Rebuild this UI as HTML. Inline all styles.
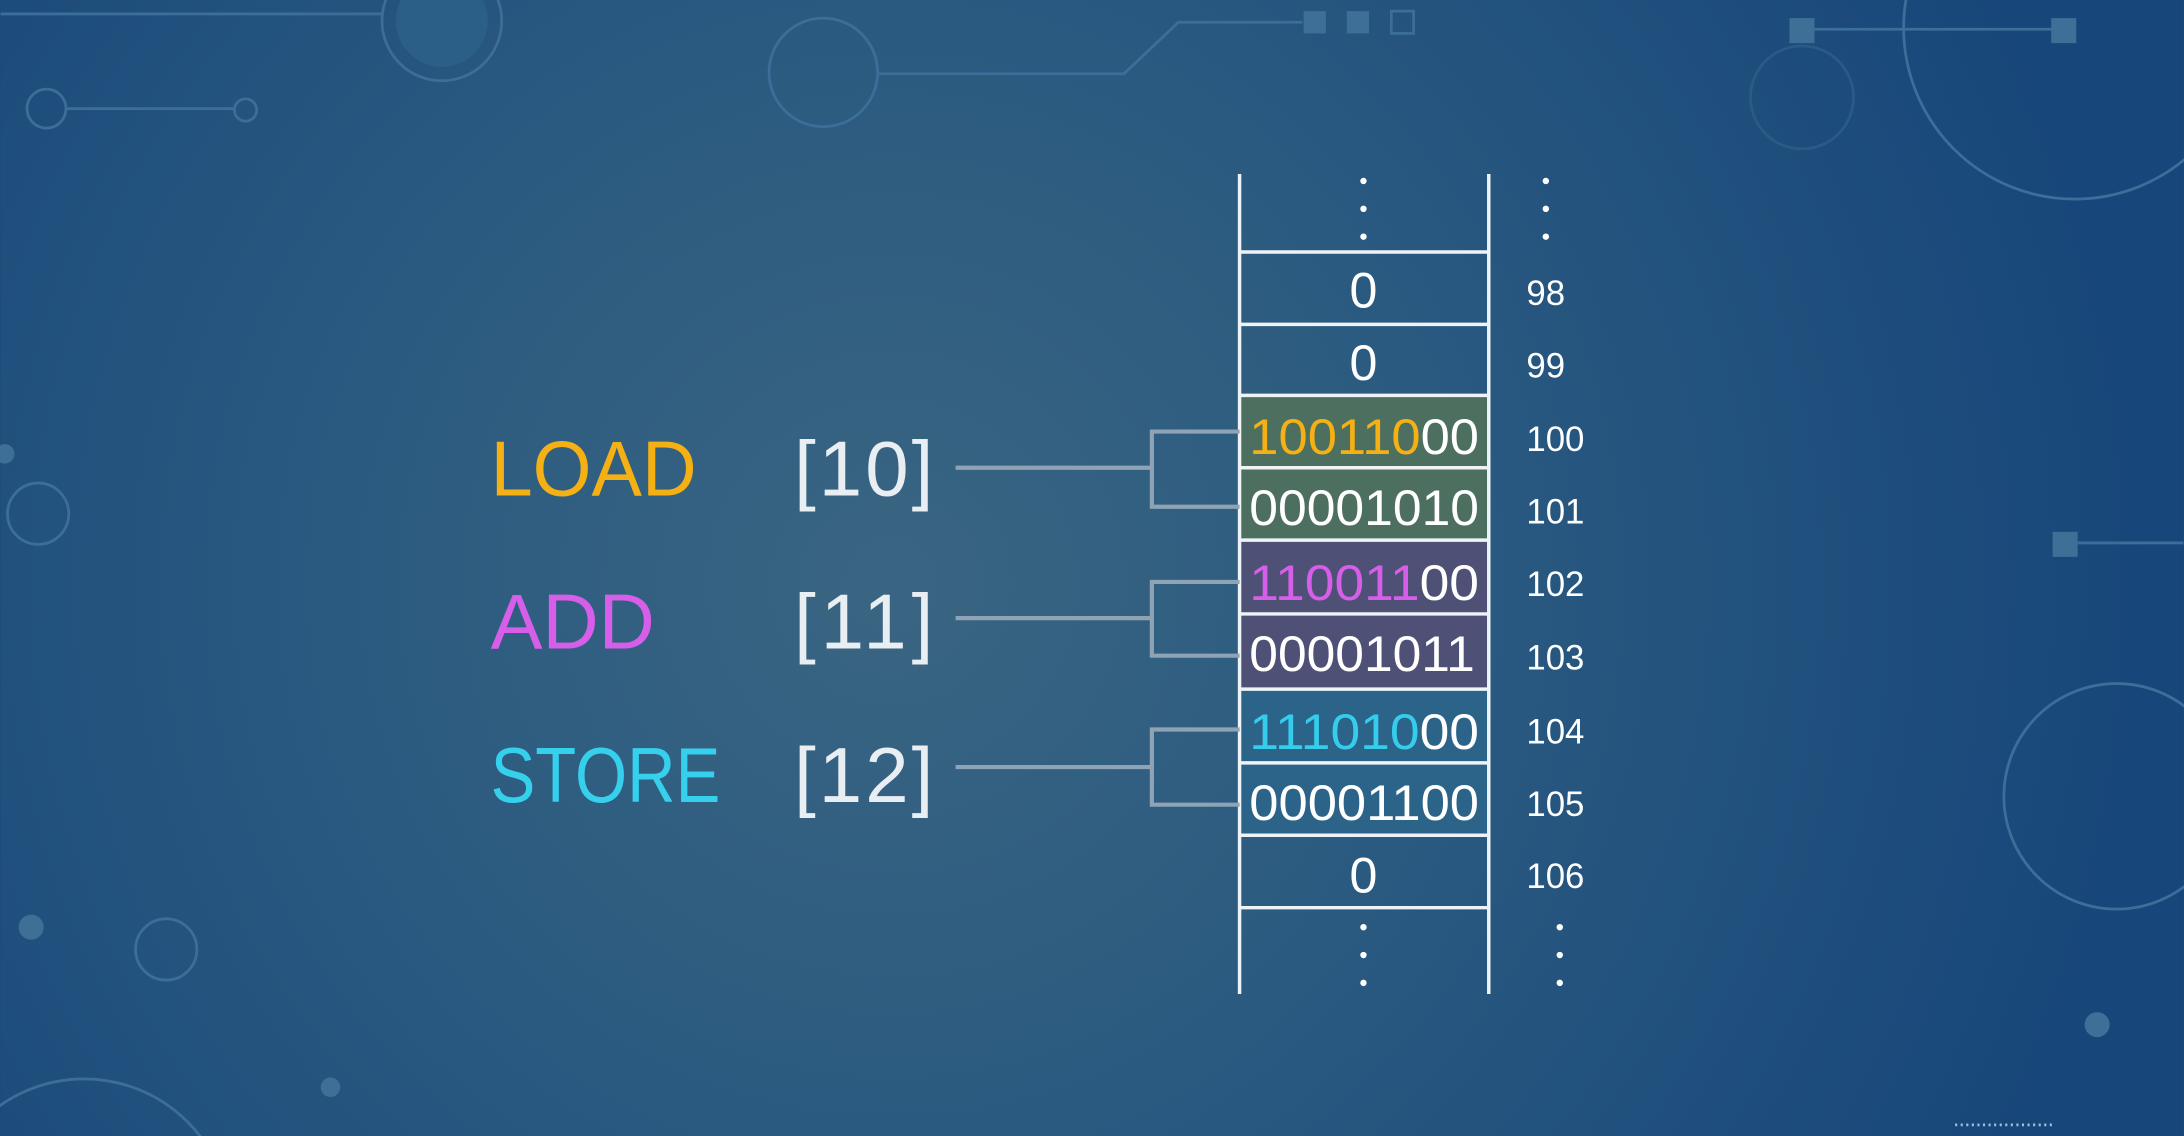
<!DOCTYPE html>
<html><head><meta charset="utf-8"><style>
html,body{margin:0;padding:0;width:2184px;height:1136px;overflow:hidden;background:#1b4a78}
svg{display:block;position:absolute;left:0;top:0}
text{font-family:"Liberation Sans",sans-serif}
</style></head><body>
<svg width="2184" height="1136" viewBox="0 0 1568 816" xmlns="http://www.w3.org/2000/svg">
<defs>
<radialGradient id="bg" cx="640" cy="420" r="900" gradientUnits="userSpaceOnUse">
<stop offset="0" stop-color="#3a6582"/>
<stop offset="0.45" stop-color="#2a5a80"/>
<stop offset="1" stop-color="#17467a"/>
</radialGradient>
</defs>
<rect width="1568" height="816" fill="url(#bg)"/>
<g fill="none" stroke="#3b6e98" stroke-width="2">
<line x1="0" y1="10" x2="275" y2="10"/>
<circle cx="317" cy="15" r="43"/>
<circle cx="33" cy="78" r="14"/><line x1="47" y1="78" x2="168" y2="78"/><circle cx="176" cy="79" r="8"/>
<circle cx="591" cy="52" r="39"/>
<polyline points="630,53 807,53 846,16 935,16"/>
<rect x="999" y="8" width="16" height="16"/>
<line x1="1300" y1="21" x2="1475" y2="21"/>
<circle cx="1294" cy="70" r="37" stroke="#2a5a86"/>
<circle cx="1490" cy="20" r="123"/>
<circle cx="27" cy="369" r="22"/>
<circle cx="1520" cy="572" r="81"/>
<line x1="1490" y1="390" x2="1568" y2="390"/>
<circle cx="119" cy="682" r="22"/>
<circle cx="60" cy="880" r="105"/>
</g>
<g fill="#3d6f97">
<circle cx="317" cy="15" r="33" fill="#2c5f88"/>
<rect x="936" y="8" width="16" height="16"/><rect x="967" y="8" width="16" height="16"/>
<rect x="1285" y="13" width="18" height="18"/><rect x="1473" y="13" width="18" height="18"/>
<rect x="1474" y="382" width="18" height="18"/>
<circle cx="3" cy="326" r="7"/>
<circle cx="22" cy="666" r="9"/>
<circle cx="237" cy="781" r="7"/>
<circle cx="1506" cy="736" r="9"/>
</g>
<line x1="1404" y1="808" x2="1476" y2="808" stroke="#a0c0d8" stroke-width="2" stroke-dasharray="1.5 2.5"/>

<rect x="891" y="284" width="178" height="104" fill="#4d6f60"/>
<rect x="891" y="388" width="178" height="107" fill="#4e5076"/>
<rect x="891" y="495" width="178" height="105" fill="#2b6389"/>

<g stroke="#eef3f7" stroke-width="2.5">
<line x1="890" y1="125" x2="890" y2="714"/>
<line x1="1069" y1="125" x2="1069" y2="714"/>
<line x1="890" y1="181" x2="1069" y2="181"/>
<line x1="890" y1="233" x2="1069" y2="233"/>
<line x1="890" y1="284" x2="1069" y2="284"/>
<line x1="890" y1="336" x2="1069" y2="336"/>
<line x1="890" y1="388" x2="1069" y2="388"/>
<line x1="890" y1="441" x2="1069" y2="441"/>
<line x1="890" y1="495" x2="1069" y2="495"/>
<line x1="890" y1="548" x2="1069" y2="548"/>
<line x1="890" y1="600" x2="1069" y2="600"/>
<line x1="890" y1="652" x2="1069" y2="652"/>
</g>
<g fill="#fff">
<circle cx="979" cy="130" r="2.3"/><circle cx="979" cy="150" r="2.3"/><circle cx="979" cy="170" r="2.3"/>
<circle cx="1110" cy="130" r="2.3"/><circle cx="1110" cy="150" r="2.3"/><circle cx="1110" cy="170" r="2.3"/>
<circle cx="979" cy="666" r="2.3"/><circle cx="979" cy="686" r="2.3"/><circle cx="979" cy="706" r="2.3"/>
<circle cx="1120" cy="666" r="2.3"/><circle cx="1120" cy="686" r="2.3"/><circle cx="1120" cy="706" r="2.3"/>
</g>

<g font-size="36" fill="#fff">
<text x="979" y="221" text-anchor="middle">0</text>
<text x="979" y="273" text-anchor="middle">0</text>
<text x="897" y="326" textLength="165" lengthAdjust="spacingAndGlyphs"><tspan fill="#f5b014">100110</tspan>00</text>
<text x="897" y="377" textLength="165" lengthAdjust="spacingAndGlyphs">00001010</text>
<text x="897" y="431" textLength="165" lengthAdjust="spacingAndGlyphs"><tspan fill="#d65ee8">110011</tspan>00</text>
<text x="897" y="482" textLength="162" lengthAdjust="spacingAndGlyphs">00001011</text>
<text x="897" y="538" textLength="165" lengthAdjust="spacingAndGlyphs"><tspan fill="#35cdec">111010</tspan>00</text>
<text x="897" y="589" textLength="165" lengthAdjust="spacingAndGlyphs">00001100</text>
<text x="979" y="641" text-anchor="middle">0</text>
</g>
<g font-size="25" fill="#fff">
<text x="1096" y="219">98</text>
<text x="1096" y="271">99</text>
<text x="1096" y="324">100</text>
<text x="1096" y="376">101</text>
<text x="1096" y="428">102</text>
<text x="1096" y="481">103</text>
<text x="1096" y="534">104</text>
<text x="1096" y="586">105</text>
<text x="1096" y="638">106</text>
</g>

<g font-size="56">
<text x="352" y="356" fill="#f5b014" textLength="148" lengthAdjust="spacingAndGlyphs">LOAD</text>
<text x="352" y="466" fill="#d65ee8" textLength="118" lengthAdjust="spacingAndGlyphs">ADD</text>
<text x="352" y="576" fill="#35d0ec" textLength="165" lengthAdjust="spacingAndGlyphs">STORE</text>
<g fill="#e8eef2">
<text x="570" y="356" textLength="100" lengthAdjust="spacing">[10]</text>
<text x="570" y="466" textLength="100" lengthAdjust="spacing">[11]</text>
<text x="570" y="576" textLength="100" lengthAdjust="spacing">[12]</text>
</g>
</g>

<g fill="none" stroke="#8ea3b4" stroke-width="3">
<line x1="686" y1="336" x2="827" y2="336"/><polyline points="890,310 827,310 827,364 890,364"/>
<line x1="686" y1="444" x2="827" y2="444"/><polyline points="890,418 827,418 827,471 890,471"/>
<line x1="686" y1="551" x2="827" y2="551"/><polyline points="890,524 827,524 827,578 890,578"/>
</g>
</svg>
</body></html>
